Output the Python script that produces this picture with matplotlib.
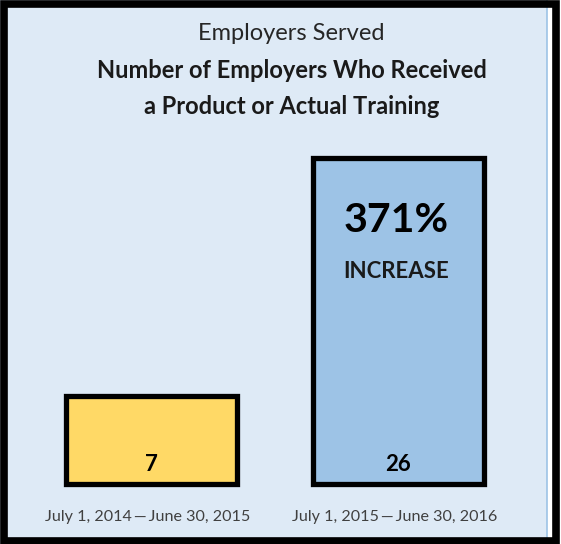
import matplotlib.pyplot as plt
from matplotlib.patches import Rectangle

# data
periods = ['July 1, 2014\u2009\u2014\u2009June 30, 2015', 'July 1, 2015\u2009\u2014\u2009June 30, 2016']
employers = [7, 26]
bar_colors = ['#FFD966', '#9DC3E6']
change_label = '371%'
change_word = 'INCREASE'

title = 'Employers Served'
subtitle_lines = ['Number of Employers Who Received', 'a Product or Actual Training']

W, H = 561, 544
plt.rcParams['font.family'] = ['Lato', 'DejaVu Sans']

fig = plt.figure(figsize=(W / 100, H / 100), dpi=100)
fig.patch.set_facecolor('white')

# panel background and frame
fig.add_artist(Rectangle((0, 0), 547 / W, 1, transform=fig.transFigure,
                         facecolor='#DEEAF6', edgecolor='none', zorder=0))
fig.add_artist(plt.Line2D([546.5 / W] * 2, [0, 1], transform=fig.transFigure,
                          color='#9DC3E6', lw=1.2, zorder=1))
fig.add_artist(Rectangle((3.5 / W, 3.5 / H), (556 - 3.5) / W, (H - 7) / H,
                         transform=fig.transFigure, facecolor='none',
                         edgecolor='black', lw=5.5, zorder=5))

# bars axis: category 0 at x=151.5px, 1 unit = 247px, y=0 at 484px, 26 at 157.5px
x0, unit = 151.5, 247
ax = fig.add_axes([0, (H - 484) / H, 1, (484 - 157.5) / H])
ax.set_xlim(-x0 / unit, (W - x0) / unit)
ax.set_ylim(0, 26)
ax.axis('off')
ax.patch.set_alpha(0)

pos = list(range(len(employers)))
ax.bar(pos, employers, width=0.69, color=bar_colors, edgecolor='black',
       linewidth=3.8, clip_on=False)

for p, v in zip(pos, employers):
    ax.text(p, 1.55, str(v), ha='center', va='center', fontsize=16,
            fontweight='bold', color='black')

fig.text(396 / W, 1 - 220 / H, change_label, ha='center', va='center',
         fontsize=29.5, fontweight='bold', color='black')
fig.text(396 / W, 1 - 272 / H, change_word, ha='center', va='center',
         fontsize=16, fontweight='bold', color='#1a1a1a')

for p, lab in zip(pos, periods):
    fig.text((x0 - 4 + p * unit) / W, 1 - 517 / H, lab, ha='center', va='center',
             fontsize=11.6, color='#404040')

fig.text(291 / W, 1 - 33 / H, title, ha='center', va='center',
         fontsize=17, color='#262626')
for yy, line in zip([71, 107], subtitle_lines):
    fig.text(292 / W, 1 - yy / H, line, ha='center', va='center',
             fontsize=17, fontweight='bold', color='#1a1a1a')

fig.savefig('out.png', dpi=100, facecolor=fig.get_facecolor())
